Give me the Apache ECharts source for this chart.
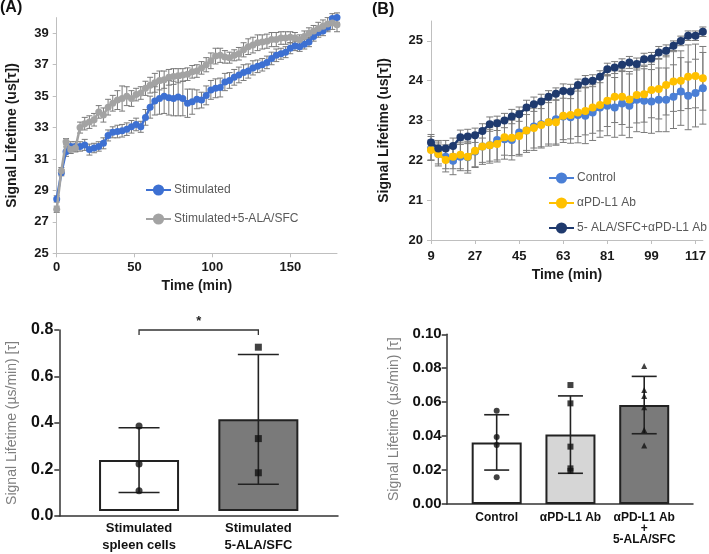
<!DOCTYPE html>
<html><head><meta charset="utf-8">
<script src="https://cdn.jsdelivr.net/npm/echarts@6/dist/echarts.min.js"></script>
<style>html,body{margin:0;padding:0;background:#fff}#c{width:709px;height:554px}</style>
</head><body><div id="c"></div>
<script>
// ---------- Panel A (time course) ----------
const timeA = [0,3,6,9,12,15,18,21,24,27,30,33,36,39,42,45,48,51,54,57,60,63,66,69,72,75,78,81,84,87,90,93,96,99,102,105,108,111,114,117,120,123,126,129,132,135,138,141,144,147,150,153,156,159,162,165,168,171,174,177,180];
const stimA = [28.46,30.13,31.47,31.8,31.8,31.8,31.9,31.6,31.7,31.8,32.0,32.5,32.7,32.75,32.8,32.9,33.05,33.2,33.05,33.65,34.3,34.7,34.85,35.0,34.9,34.85,34.95,34.85,34.55,34.65,34.8,34.75,35.05,35.4,35.5,35.55,35.9,36.0,36.2,36.35,36.5,36.6,36.8,36.9,37.0,37.15,37.4,37.6,37.7,37.8,38.05,38.2,38.15,38.3,38.45,38.8,39.05,39.15,39.4,39.95,40.0];
const stimAErr = [0.2,0.2,0.3,0.3,0.3,0.3,0.35,0.35,0.3,0.3,0.35,0.35,0.35,0.4,0.4,0.4,0.4,0.4,0.35,0.5,0.7,0.9,1.0,1.1,1.1,1.1,1.2,1.1,0.9,0.8,0.6,0.5,0.6,0.6,0.6,0.6,0.55,0.5,0.5,0.5,0.5,0.45,0.45,0.4,0.4,0.4,0.4,0.4,0.35,0.35,0.35,0.3,0.3,0.3,0.3,0.3,0.3,0.3,0.3,0.3,0.3];
const alaA = [27.8,30.26,32.1,31.6,31.7,33.0,33.25,33.35,33.5,34.0,33.8,34.3,34.55,34.75,34.85,35.0,34.85,35.1,35.2,35.5,35.7,35.85,36.0,36.05,36.2,36.25,36.3,36.35,36.4,36.55,36.6,36.8,37.0,37.25,37.55,37.6,37.5,37.45,37.6,37.7,37.95,38.15,38.25,38.4,38.45,38.5,38.6,38.6,38.7,38.7,38.75,38.7,38.6,38.8,39.0,39.15,39.3,39.45,39.6,39.65,39.55];
const alaAErr = [0.2,0.2,0.2,0.25,0.25,0.35,0.4,0.4,0.4,0.4,0.45,0.5,0.5,0.6,0.8,0.6,0.5,0.4,0.4,0.45,0.5,0.6,0.6,0.55,0.5,0.5,0.45,0.4,0.4,0.4,0.4,0.4,0.45,0.5,0.5,0.45,0.4,0.35,0.35,0.4,0.45,0.5,0.5,0.5,0.45,0.45,0.45,0.45,0.4,0.4,0.35,0.35,0.3,0.35,0.35,0.35,0.4,0.4,0.4,0.4,0.45];
const namesA = ['Stimulated','Stimulated+5-ALA/SFC'];

// ---------- Panel B (time course) ----------
const timeB = ['9','12','15','18','21','24','27','30','33','36','39','42','45','48','51','54','57','60','63','66','69','72','75','78','81','84','87','90','93','96','99','102','105','108','111','114','117','120'];
const ctrlB = [22.3,22.16,22.09,21.99,22.09,22.08,22.22,22.35,22.38,22.51,22.53,22.51,22.7,22.75,22.85,22.91,22.96,23.03,23.1,23.08,23.14,23.12,23.2,23.33,23.37,23.33,23.43,23.37,23.52,23.5,23.48,23.52,23.52,23.6,23.73,23.62,23.69,23.81];
const ctrlBErr = [0.3,0.3,0.3,0.35,0.35,0.4,0.4,0.45,0.45,0.5,0.5,0.5,0.55,0.55,0.6,0.6,0.6,0.65,0.65,0.65,0.7,0.7,0.7,0.75,0.75,0.75,0.8,0.8,0.8,0.8,0.8,0.8,0.8,0.8,0.85,0.85,0.85,0.9];
const pdl1B = [22.26,22.16,22.01,22.09,22.14,22.09,22.24,22.35,22.38,22.41,22.58,22.57,22.61,22.75,22.81,22.89,22.96,22.96,23.12,23.14,23.2,23.24,23.33,23.39,23.5,23.6,23.6,23.53,23.64,23.66,23.77,23.79,23.89,23.98,24.0,24.1,24.12,24.06];
const pdl1BErr = [0.25,0.25,0.3,0.3,0.35,0.35,0.4,0.4,0.4,0.45,0.45,0.45,0.5,0.5,0.5,0.55,0.55,0.55,0.6,0.6,0.6,0.6,0.65,0.65,0.65,0.65,0.7,0.7,0.7,0.7,0.7,0.75,0.75,0.75,0.75,0.8,0.8,0.8];
const comboB = [22.45,22.3,22.3,22.36,22.58,22.6,22.63,22.74,22.91,22.93,23.0,23.1,23.16,23.33,23.41,23.48,23.6,23.67,23.74,23.73,23.89,23.98,24.0,24.1,24.29,24.33,24.4,24.46,24.42,24.54,24.56,24.71,24.75,24.88,25.0,25.13,25.13,25.23];
const comboBErr = [0.2,0.2,0.2,0.2,0.18,0.18,0.18,0.18,0.18,0.18,0.18,0.18,0.18,0.18,0.18,0.18,0.15,0.15,0.18,0.18,0.15,0.15,0.15,0.15,0.15,0.15,0.15,0.15,0.15,0.15,0.15,0.15,0.15,0.12,0.12,0.12,0.12,0.12];
const namesB = ['Control','\u03b1PD-L1 Ab','5- ALA/SFC+\u03b1PD-L1 Ab'];

// ---------- Panel C (bar, 2 groups) ----------
const catsC = ['Stimulated\nspleen cells','Stimulated\n5-ALA/SFC'];
const meanC = [0.225, 0.405];
const sdC = [0.143, 0.287];
const ptsC = [[0.376,0.208,0.09],[0.724,0.32,0.169]];
const sigC = [[0,1,0.8,'*']];

// ---------- Panel D (bar, 3 groups) ----------
const catsD = ['Control','\u03b1PD-L1 Ab','\u03b1PD-L1 Ab\n+\n5-ALA/SFC'];
const meanD = [0.0363, 0.0409, 0.0583];
const sdD = [0.0163, 0.0228, 0.0169];
const ptsD = [[0.055,0.0395,0.0348,0.0157],[0.0701,0.0593,0.0338,0.0195,0.021],[0.0813,0.0672,0.0637,0.057,0.0436,0.0344]];

// ---------- styling ----------
const FONT = 'Liberation Sans';
const colA = ['#3d70d2','#a3a3a3'];
const colB = ['#4a7fd6','#ffc000','#1f3a6e'];
const barColC = ['#ffffff','#7a7a7a'];
const barColD = ['#ffffff','#d6d6d6','#7a7a7a'];
const symC = ['circle','rect'];
const symD = ['circle','rect','triangle'];

function errRender(capHalf, color, lw) {
  return function (params, api) {
    const x = api.value(0), lo = api.value(1), hi = api.value(2);
    const a = api.coord([x, hi]), b = api.coord([x, lo]);
    const st = {stroke: color, lineWidth: lw};
    return {type: 'group', children: [
      {type: 'line', shape: {x1: a[0], y1: a[1], x2: b[0], y2: b[1]}, style: st},
      {type: 'line', shape: {x1: a[0]-capHalf, y1: a[1], x2: a[0]+capHalf, y2: a[1]}, style: st},
      {type: 'line', shape: {x1: b[0]-capHalf, y1: b[1], x2: b[0]+capHalf, y2: b[1]}, style: st}
    ]};
  };
}
function errData(xs, ys, es) { return ys.map((v, i) => [xs[i], v - es[i], v + es[i]]); }

const topLabel = {color: '#1a1a1a', fontWeight: 'bold', fontSize: 13, fontFamily: FONT};
const topName = {color: '#1a1a1a', fontWeight: 'bold', fontSize: 14, fontFamily: FONT};
const lightLine = {lineStyle: {color: '#bfbfbf', width: 1}};

const series = [];
// panel A
series.push({type: 'custom', xAxisIndex: 0, yAxisIndex: 0, z: 1, renderItem: errRender(3, '#7a7a7a', 1), data: errData(timeA, alaA, alaAErr)});
series.push({type: 'custom', xAxisIndex: 0, yAxisIndex: 0, z: 1, renderItem: errRender(3, '#7a7a7a', 1), data: errData(timeA, stimA, stimAErr)});
[stimA, alaA].forEach((arr, k) => series.push({
  type: 'line', name: namesA[k], xAxisIndex: 0, yAxisIndex: 0, z: 2 + k,
  data: arr.map((v, i) => [timeA[i], v]), symbol: 'circle', symbolSize: 7, showAllSymbol: true,
  lineStyle: {color: colA[k], width: 2.5}, itemStyle: {color: colA[k]}
}));
// panel B
const idxB = timeB.map((t, i) => i);
[ctrlB, pdl1B, comboB].forEach((arr, k) => {
  const e = [ctrlBErr, pdl1BErr, comboBErr][k];
  series.push({type: 'custom', xAxisIndex: 1, yAxisIndex: 1, z: 1, renderItem: errRender(3.5, '#7a7a7a', 1), data: errData(idxB, arr, e)});
});
[ctrlB, pdl1B, comboB].forEach((arr, k) => series.push({
  type: 'line', name: namesB[k], xAxisIndex: 1, yAxisIndex: 1, z: 2 + k,
  data: arr, symbol: 'circle', symbolSize: 8, showAllSymbol: true,
  lineStyle: {color: colB[k], width: 2.5}, itemStyle: {color: colB[k]}
}));
// panel C
series.push({type: 'bar', xAxisIndex: 3, yAxisIndex: 3, barWidth: 80, z: 2,
  data: meanC.map((v, i) => ({value: v, itemStyle: {color: barColC[i], borderColor: '#222', borderWidth: 2}}))});
series.push({type: 'custom', xAxisIndex: 3, yAxisIndex: 3, z: 3, renderItem: errRender(20.5, '#222', 1.6),
  data: errData([0, 1], meanC, sdC)});
ptsC.forEach((arr, k) => series.push({type: 'scatter', xAxisIndex: 3, yAxisIndex: 3, z: 4,
  symbol: symC[k], symbolSize: 7, itemStyle: {color: '#111'}, data: arr.map(v => [k, v])}));
series.push({type: 'custom', xAxisIndex: 3, yAxisIndex: 3, z: 5, data: sigC,
  renderItem: function (params, api) {
    const y = api.value(2);
    const a = api.coord([api.value(0), y]), b = api.coord([api.value(1), y]);
    return {type: 'group', children: [
      {type: 'polyline', shape: {points: [[a[0], a[1] + 5], [a[0], a[1]], [b[0], b[1]], [b[0], b[1] + 5]]},
        style: {stroke: '#333', lineWidth: 1.3, fill: null}},
      {type: 'text', style: {text: sigC[params.dataIndex][3], x: (a[0] + b[0]) / 2, y: a[1] - 2,
        align: 'center', verticalAlign: 'bottom', fontSize: 13, fontWeight: 'bold', fontFamily: FONT, fill: '#222'}}
    ]};
  }});
// panel D
series.push({type: 'bar', xAxisIndex: 5, yAxisIndex: 5, barWidth: 50, z: 2,
  data: meanD.map((v, i) => ({value: v, itemStyle: {color: barColD[i], borderColor: '#222', borderWidth: 2}}))});
series.push({type: 'custom', xAxisIndex: 5, yAxisIndex: 5, z: 3, renderItem: errRender(12.5, '#222', 1.6),
  data: errData([0, 1, 2], meanD, sdD)});
ptsD.forEach((arr, k) => series.push({type: 'scatter', xAxisIndex: 5, yAxisIndex: 5, z: 4,
  symbol: symD[k], symbolSize: 6, itemStyle: {color: '#111'}, data: arr.map(v => [k, v])}));

const bottomLabel = {color: '#111', fontWeight: 'bold', fontFamily: FONT};
const darkLine = {lineStyle: {color: '#333', width: 1.5}};

const option = {
  animation: false,
  backgroundColor: '#fff',
  textStyle: {fontFamily: FONT},
  graphic: [
    {type: 'text', left: 0, top: 0, style: {text: '(A)', font: 'bold 16px "Liberation Sans"', fill: '#111'}},
    {type: 'text', left: 372, top: 2, style: {text: '(B)', font: 'bold 16px "Liberation Sans"', fill: '#111'}}
  ],
  legend: [
    {data: namesA, orient: 'vertical', left: 145, top: 184, padding: 0, itemWidth: 25, itemHeight: 14, itemGap: 17,
      textStyle: {color: '#595959', fontSize: 12, fontFamily: FONT, padding: [0, 0, 0, -2]}, selectedMode: false},
    {data: namesB, orient: 'vertical', left: 548, top: 172, padding: 0, itemWidth: 25, itemHeight: 14, itemGap: 13,
      textStyle: {color: '#595959', fontSize: 12, fontFamily: FONT, padding: [0, 0, 0, -2]}, selectedMode: false}
  ],
  grid: [
    {left: 56.7, right: 372, top: 17.6, bottom: 300.7},
    {left: 431, right: 0, top: 21, bottom: 314},
    {left: 59.3, right: 371, top: 330, bottom: 38},
    {left: 79.4, width: 238.6, top: 330, bottom: 38},
    {left: 446.7, right: 16, top: 334.3, bottom: 50},
    {left: 459.8, width: 221.3, top: 334.3, bottom: 50}
  ],
  xAxis: [
    {gridIndex: 0, type: 'value', min: 0, max: 180, interval: 50, splitLine: {show: false},
      axisLine: lightLine, axisTick: {length: 4, lineStyle: {color: '#bfbfbf'}},
      axisLabel: Object.assign({margin: 8, showMaxLabel: false}, topLabel),
      name: 'Time (min)', nameLocation: 'middle', nameGap: 26, nameTextStyle: topName},
    {gridIndex: 1, type: 'category', data: timeB, boundaryGap: false,
      axisLine: lightLine, axisTick: {interval: 5, length: 4, lineStyle: {color: '#bfbfbf'}},
      axisLabel: Object.assign({interval: 5, margin: 10}, topLabel),
      name: 'Time (min)', nameLocation: 'middle', nameGap: 28, nameTextStyle: topName},
    {gridIndex: 2, type: 'value', min: 0, max: 1, axisLine: darkLine, axisTick: {show: false},
      axisLabel: {show: false}, splitLine: {show: false}},
    {gridIndex: 3, type: 'category', data: catsC, axisLine: {show: false},
      axisTick: {alignWithLabel: true, length: 5, lineStyle: {color: '#333', width: 1.5}},
      axisLabel: Object.assign({fontSize: 13, lineHeight: 17, margin: 9, interval: 0}, bottomLabel)},
    {gridIndex: 4, type: 'value', min: 0, max: 1, axisLine: darkLine, axisTick: {show: false},
      axisLabel: {show: false}, splitLine: {show: false}},
    {gridIndex: 5, type: 'category', data: catsD, axisLine: {show: false},
      axisTick: {alignWithLabel: true, length: 5, lineStyle: {color: '#333', width: 1.5}},
      axisLabel: Object.assign({fontSize: 12, lineHeight: 11, margin: 8, interval: 0}, bottomLabel)}
  ],
  yAxis: [
    {gridIndex: 0, type: 'value', min: 25, max: 40, interval: 2, splitLine: {show: false},
      axisLine: Object.assign({show: true}, lightLine), axisTick: {show: true, length: 4, lineStyle: {color: '#bfbfbf'}},
      axisLabel: Object.assign({showMaxLabel: false, margin: 8}, topLabel),
      name: 'Signal Lifetime (us[\u03c4])', nameLocation: 'middle', nameGap: 38, nameTextStyle: topName},
    {gridIndex: 1, type: 'value', min: 20, max: 25.5, interval: 1, splitLine: {show: false},
      axisLine: Object.assign({show: true}, lightLine), axisTick: {show: true, length: 4, lineStyle: {color: '#bfbfbf'}},
      axisLabel: Object.assign({showMaxLabel: false, margin: 8}, topLabel),
      name: 'Signal Lifetime (us[\u03c4])', nameLocation: 'middle', nameGap: 40, nameTextStyle: topName},
    {gridIndex: 2, type: 'value', min: 0, max: 0.8, interval: 0.2, splitLine: {show: false},
      axisLine: Object.assign({show: true}, darkLine), axisTick: {show: true, length: 5, lineStyle: {color: '#333', width: 1.5}},
      axisLabel: Object.assign({fontSize: 16, margin: 6, formatter: v => v.toFixed(1)}, bottomLabel),
      name: 'Signal Lifetime (\u00b5s/min) [\u03c4]', nameLocation: 'middle', nameGap: 40,
      nameTextStyle: {color: '#7f7f7f', fontSize: 14, fontFamily: FONT}},
    {gridIndex: 3, type: 'value', min: 0, max: 0.8, show: false},
    {gridIndex: 4, type: 'value', min: 0, max: 0.1, interval: 0.02, splitLine: {show: false},
      axisLine: Object.assign({show: true}, darkLine), axisTick: {show: true, length: 5, lineStyle: {color: '#333', width: 1.5}},
      axisLabel: Object.assign({fontSize: 15, margin: 5, formatter: v => v.toFixed(2)}, bottomLabel),
      name: 'Signal Lifetime (\u00b5s/min) [\u03c4]', nameLocation: 'middle', nameGap: 46,
      nameTextStyle: {color: '#7f7f7f', fontSize: 14, fontFamily: FONT}},
    {gridIndex: 5, type: 'value', min: 0, max: 0.1, show: false}
  ],
  series: series
};
const chart = echarts.init(document.getElementById('c'), null, {renderer: 'canvas'});
chart.setOption(option);
</script></body></html>
